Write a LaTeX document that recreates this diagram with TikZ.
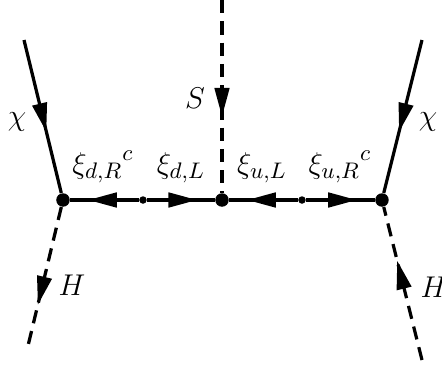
\documentclass[tikz,border=0pt]{standalone}
\usetikzlibrary{arrows.meta,decorations.markings}
\definecolor{lineclr}{RGB}{0,0,0}
\tikzset{
  vtx/.style={circle,fill=lineclr,inner sep=0pt,minimum size=5.4pt},
  svtx/.style={circle,fill=lineclr,inner sep=0pt,minimum size=3pt},
  fermi/.style={line width=1.3pt,color=lineclr,postaction={decorate},
    decoration={markings,mark=at position #1 with
      {\arrow[solid]{Triangle[length=11.5pt,width=5.8pt]}}}},
  scal/.style={fermi=#1,dash pattern=on 5.3pt off 3.2pt},
  lbl/.style={font=\fontsize{12.5}{14}\selectfont,text=lineclr,inner sep=0pt},
}
\begin{document}
\begin{tikzpicture}[x=0.4pt,y=-0.4pt]
  \useasboundingbox (0,0) rectangle (442,367);
  % vertices on the horizontal line
  \node[vtx]  (vl) at (63,200)  {};
  \node[svtx] (dl) at (143,200) {};
  \node[vtx]  (vc) at (222,200) {};
  \node[svtx] (ul) at (302,200) {};
  \node[vtx]  (vr) at (382,200) {};
  % free ends
  \coordinate (chil) at (24,40);
  \coordinate (chir) at (422,40);
  \coordinate (stop) at (222,0);
  \coordinate (hl)   at (27,350);
  \coordinate (hr)   at (422,360);

  \draw[fermi=0.74] (dl) -- (vl);
  \draw[fermi=0.74] (dl) -- (vc);
  \draw[fermi=0.74] (ul) -- (vc);
  \draw[fermi=0.74] (ul) -- (vr);
  \draw[fermi=0.6] (chil) -- (vl);
  \draw[fermi=0.6] (chir) -- (vr);
  \draw[scal=0.605] (stop) -- (vc);
  \draw[scal=0.685] (vl) -- (hl);
  \draw[scal=0.65] (hr) -- (vr);

  \node[lbl] (chil-l) at (17,122)  {$\chi$};
  \node[lbl] (chir-l) at (428,122) {$\chi$};
  \node[lbl] (s-l)    at (195,98)  {$S$};
  \node[lbl] (hl-l)   at (72,285)  {$H$};
  \node[lbl] (hr-l)   at (434,287) {$H$};
  \node[lbl] (xdr-l)  at (103,167) {${\xi_{d,R}}^c$};
  \node[lbl] (xdl-l)  at (181,168) {$\xi_{d,L}$};
  \node[lbl] (xul-l)  at (262,168) {$\xi_{u,L}$};
  \node[lbl] (xur-l)  at (340,167) {${\xi_{u,R}}^c$};
\end{tikzpicture}
\end{document}
